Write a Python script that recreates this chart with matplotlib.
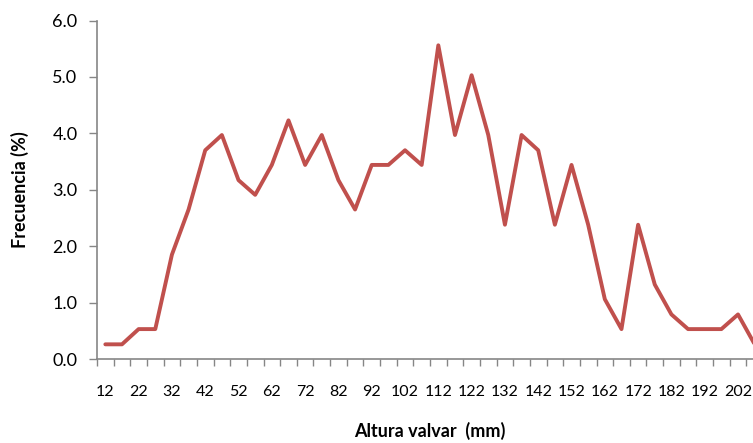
import matplotlib
matplotlib.use("Agg")
import matplotlib.pyplot as plt
from matplotlib.ticker import MultipleLocator, FixedLocator

# Altura valvar (mm), clases de 5 mm
altura = list(range(12, 208, 5))
frecuencia = [0.26, 0.26, 0.53, 0.53, 1.85, 2.65, 3.70, 3.97, 3.17, 2.91,
              3.44, 4.23, 3.44, 3.97, 3.17, 2.65, 3.44, 3.44, 3.70, 3.44,
              5.56, 3.97, 5.03, 3.97, 2.38, 3.97, 3.70, 2.38, 3.44, 2.38,
              1.06, 0.53, 2.38, 1.32, 0.79, 0.53, 0.53, 0.53, 0.79, 0.26]
etiquetas = [str(a) for a in altura]

plt.rcParams['font.family'] = ['Lato', 'DejaVu Sans']

fig = plt.figure(figsize=(7.53, 4.43), dpi=100)
ax = fig.add_axes([97 / 753, 84 / 443, 666 / 753, 338.5 / 443])

x = list(range(len(altura)))
ax.plot(x, frecuencia, color='#C0504D', lw=2.8, solid_joinstyle='round',
        solid_capstyle='round', clip_on=False)

ax.set_xlim(-0.5, len(altura) - 0.5)
ax.set_ylim(0, 6)

# eje y
ax.yaxis.set_major_locator(MultipleLocator(1))
ax.yaxis.set_major_formatter(plt.FuncFormatter(lambda v, p: f"{v:.1f}"))
ax.tick_params(axis='y', direction='out', length=6, width=1, color='#868686',
               labelsize=13, pad=8, labelcolor='black')

# eje x: etiquetas cada dos categorías, marcas entre categorías
ax.xaxis.set_major_locator(FixedLocator(x[::2]))
ax.set_xticklabels(etiquetas[::2])
ax.xaxis.set_minor_locator(FixedLocator([i - 0.5 for i in range(len(altura) + 1)]))
ax.tick_params(axis='x', which='major', length=0, labelsize=11.5, pad=19)
ax.tick_params(axis='x', which='minor', direction='out', length=5, width=1,
               color='#868686')

for s in ['top', 'right']:
    ax.spines[s].set_visible(False)
for s in ['left', 'bottom']:
    ax.spines[s].set_color('#868686')
    ax.spines[s].set_linewidth(1.2)

ax.set_ylabel('Frecuencia (%)', fontsize=13, fontweight='bold', labelpad=17)
ax.set_xlabel('Altura valvar  (mm)', fontsize=13, fontweight='bold', labelpad=16)

fig.savefig('out.png', dpi=100)
